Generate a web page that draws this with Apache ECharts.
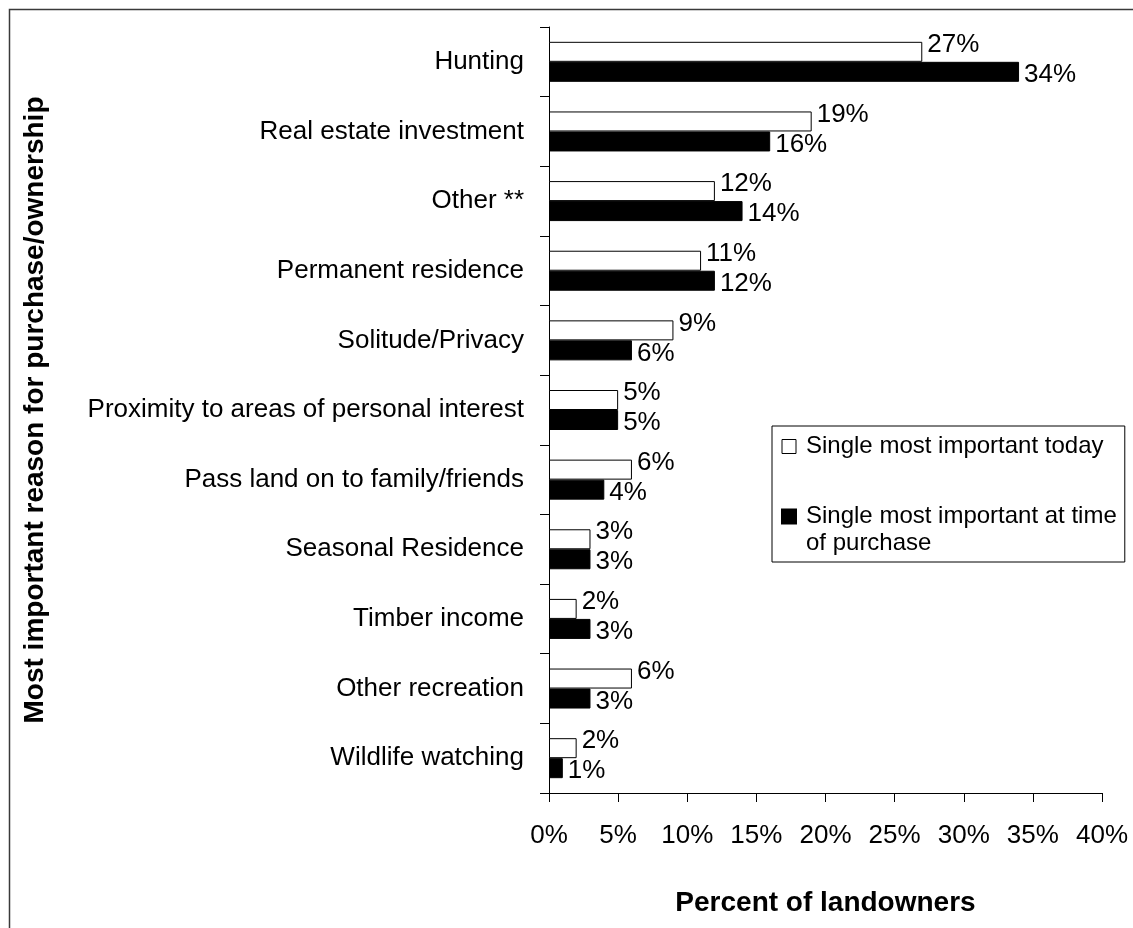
<!DOCTYPE html>
<html>
<head>
<meta charset="utf-8">
<script src="https://cdn.jsdelivr.net/npm/echarts@6/dist/echarts.min.js"></script>
<style>
  html, body { margin: 0; padding: 0; background: #fff; }
  #chart { width: 1133px; height: 928px; }
</style>
</head>
<body>
<div id="chart"></div>
<script>
const categories = [
  'Hunting',
  'Real estate investment',
  'Other **',
  'Permanent residence',
  'Solitude/Privacy',
  'Proximity to areas of personal interest',
  'Pass land on to family/friends',
  'Seasonal Residence',
  'Timber income',
  'Other recreation',
  'Wildlife watching'
];
const seriesNames = ['Single most important today', 'Single most important at time of purchase'];
const todayValues = [27, 19, 12, 11, 9, 5, 6, 3, 2, 6, 2];
const purchaseValues = [34, 16, 14, 12, 6, 5, 4, 3, 3, 3, 1];
const xTicks = [0, 5, 10, 15, 20, 25, 30, 35, 40];

const FONT = '"Liberation Sans", Arial, sans-serif';

const chart = echarts.init(document.getElementById('chart'), null, { renderer: 'canvas' });

const option = {
  backgroundColor: '#ffffff',
  animation: false,
  textStyle: { fontFamily: FONT, color: '#000' },
  graphic: [{
    type: 'rect',
    left: 7, top: 7,
    shape: { x: 0, y: 0, width: 1300, height: 1100 },
    style: { fill: 'none', stroke: '#3a3a3a', lineWidth: 1.5 },
    silent: true, z: 0
  }],
  grid: { left: 549, right: 31, top: 27, bottom: 135, containLabel: false },
  legend: {
    orient: 'vertical',
    left: 772,
    top: 426,
    padding: [7, 8, 5, 9],
    itemGap: 16,
    itemWidth: 14,
    itemHeight: 14,
    backgroundColor: '#fff',
    borderColor: '#000',
    borderWidth: 1,
    borderRadius: 0,
    icon: 'rect',
    textStyle: { fontFamily: FONT, fontSize: 24, color: '#000', lineHeight: 27, padding: [0, 0, 0, 5] },
    formatter: function (name) {
      return name === seriesNames[1] ? '\nSingle most important at time\nof purchase' : name;
    },
    data: [
      { name: seriesNames[0], itemStyle: { color: '#fff', borderColor: '#000', borderWidth: 1 } },
      { name: seriesNames[1], itemStyle: { color: '#000' } }
    ]
  },
  xAxis: {
    type: 'value',
    min: 0, max: 40, interval: 5,
    name: 'Percent of landowners',
    nameLocation: 'middle',
    nameGap: 96,
    nameTextStyle: { fontFamily: FONT, fontSize: 28, fontWeight: 'bold', color: '#000' },
    axisLine: { show: true, lineStyle: { color: '#000', width: 1 } },
    axisTick: { show: true, inside: false, length: 9, lineStyle: { color: '#000' } },
    axisLabel: {
      margin: 30, fontSize: 26, color: '#000', fontFamily: FONT,
      formatter: function (v) { return xTicks.indexOf(v) >= 0 ? v + '%' : ''; }
    },
    splitLine: { show: false }
  },
  yAxis: {
    type: 'category',
    data: categories,
    inverse: true,
    name: 'Most important reason for purchase/ownership',
    nameLocation: 'middle',
    nameGap: 500,
    nameRotate: 90,
    nameTextStyle: { fontFamily: FONT, fontSize: 28, fontWeight: 'bold', color: '#000' },
    axisLine: { show: true, lineStyle: { color: '#000', width: 1 } },
    axisTick: { show: true, inside: false, length: 9, alignWithLabel: false, lineStyle: { color: '#000' } },
    axisLabel: { margin: 25, fontSize: 26, color: '#000', fontFamily: FONT }
  },
  series: [
    {
      name: seriesNames[0],
      type: 'bar',
      data: todayValues,
      barWidth: 20,
      barGap: '0%',
      itemStyle: { color: '#fff', borderColor: '#000', borderWidth: 1 },
      label: {
        show: true, position: 'right', distance: 5, offset: [0, -7],
        fontSize: 26, color: '#000', fontFamily: FONT,
        formatter: '{c}%'
      }
    },
    {
      name: seriesNames[1],
      type: 'bar',
      data: purchaseValues,
      barWidth: 20,
      barGap: '0%',
      itemStyle: { color: '#000', borderColor: '#000', borderWidth: 1 },
      label: {
        show: true, position: 'right', distance: 5, offset: [0, 3],
        fontSize: 26, color: '#000', fontFamily: FONT,
        formatter: '{c}%'
      }
    }
  ]
};

chart.setOption(option);
</script>
</body>
</html>
